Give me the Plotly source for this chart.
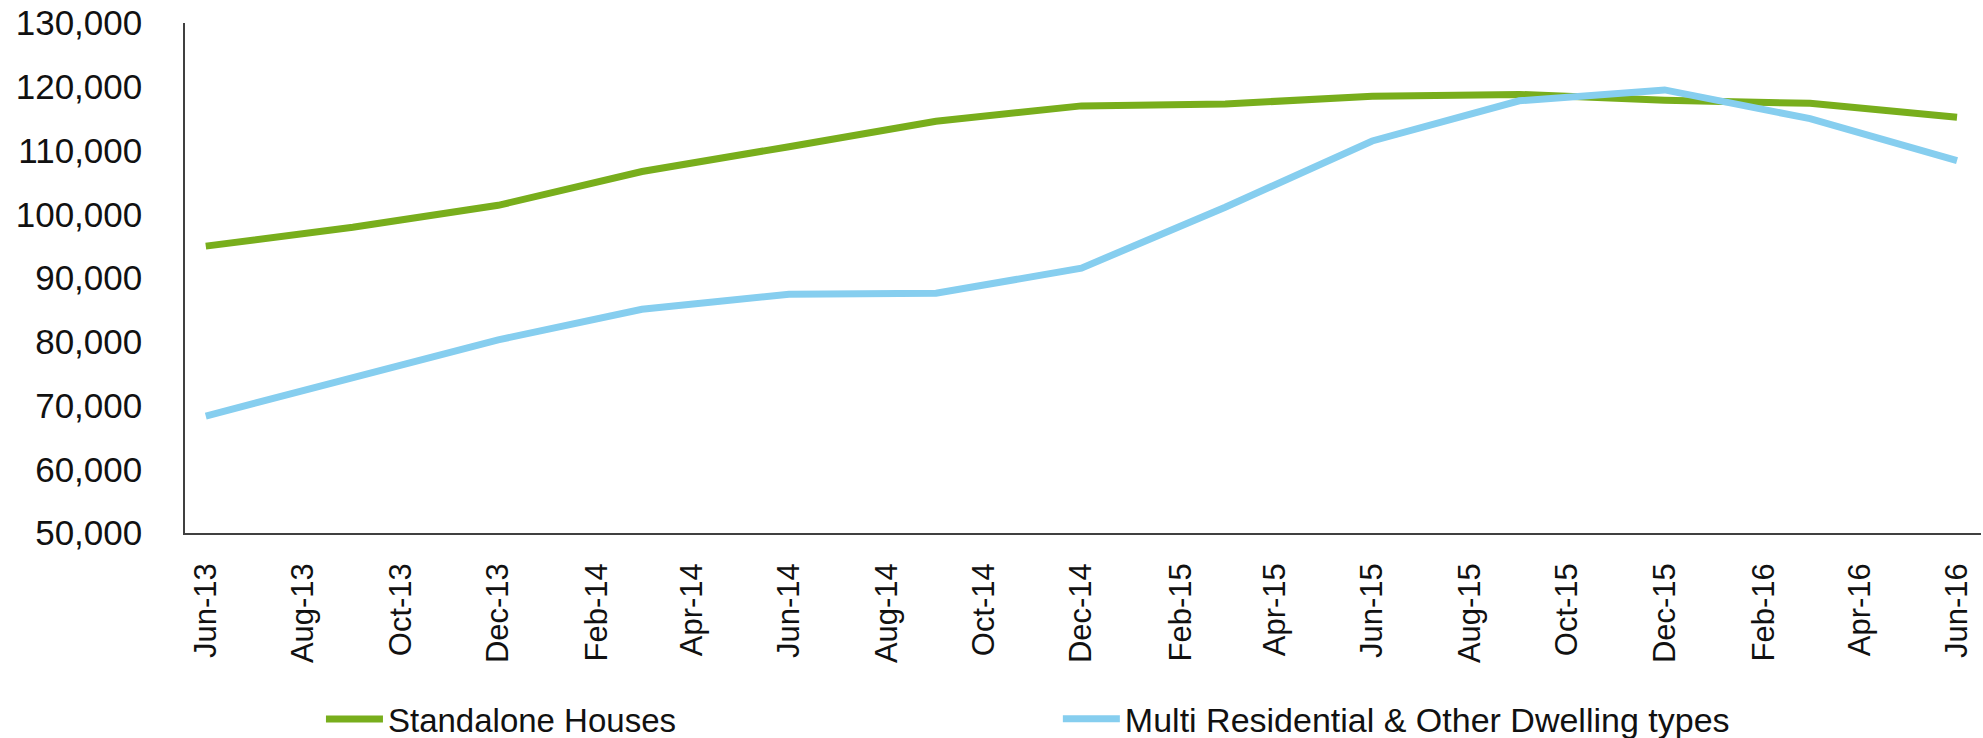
import plotly.graph_objects as go

# Quarterly observation dates
dates = ["2013-06-01", "2013-09-01", "2013-12-01", "2014-03-01", "2014-06-01",
         "2014-09-01", "2014-12-01", "2015-03-01", "2015-06-01", "2015-09-01",
         "2015-12-01", "2016-03-01", "2016-06-01"]

standalone_houses = [95000, 97950, 101400, 106700, 110600, 114600, 117000,
                     117300, 118500, 118800, 117900, 117400, 115200]

multi_residential = [68350, 74300, 80300, 85100, 87450, 87600, 91550,
                     101100, 111500, 117800, 119500, 115000, 108400]

series_names = ["Standalone Houses", "Multi Residential & Other Dwelling types"]
series_colors = ["#78AE1C", "#86CEEF"]

FONT = "Liberation Sans, Arial, sans-serif"

fig = go.Figure()
fig.add_trace(go.Scatter(x=dates, y=standalone_houses, mode="lines",
                         name=series_names[0], legend="legend",
                         line=dict(color=series_colors[0], width=7)))
fig.add_trace(go.Scatter(x=dates, y=multi_residential, mode="lines",
                         name=series_names[1], legend="legend2",
                         line=dict(color=series_colors[1], width=7)))

legend_common = dict(orientation="h", yanchor="middle", y=-0.365, xanchor="left",
                     bgcolor="rgba(0,0,0,0)", itemwidth=57, borderwidth=0)

fig.update_layout(
    width=1983, height=738,
    margin=dict(l=185, r=2, t=23, b=205, autoexpand=False),
    paper_bgcolor="white", plot_bgcolor="white",
    showlegend=True,
    legend=dict(x=0.0757, font=dict(family=FONT, size=33, color="#111111"), **legend_common),
    legend2=dict(x=0.486, font=dict(family=FONT, size=34, color="#111111"), **legend_common),
    xaxis=dict(
        type="date",
        range=["2013-05-19", "2016-06-16"],
        tick0="2013-06-01", dtick="M2", tickformat="%b-%y",
        tickangle=-90, automargin=False,
        showgrid=False, zeroline=False,
        showline=True, linecolor="#404040", linewidth=1.5,
        ticks="outside", ticklen=16, tickcolor="rgba(0,0,0,0)",
        tickfont=dict(family=FONT, size=31, color="#111111"),
    ),
    yaxis=dict(
        range=[50000, 130000], dtick=10000, tickformat=",d",
        automargin=False,
        showgrid=False, zeroline=False,
        showline=True, linecolor="#404040", linewidth=1.5,
        ticks="outside", ticklen=34, tickcolor="rgba(0,0,0,0)",
        tickfont=dict(family=FONT, size=35, color="#111111"),
    ),
)

fig.write_html("out.html",
               config={"displayModeBar": False},
               post_script="document.body.style.margin='0px';document.body.style.overflow='hidden';")
